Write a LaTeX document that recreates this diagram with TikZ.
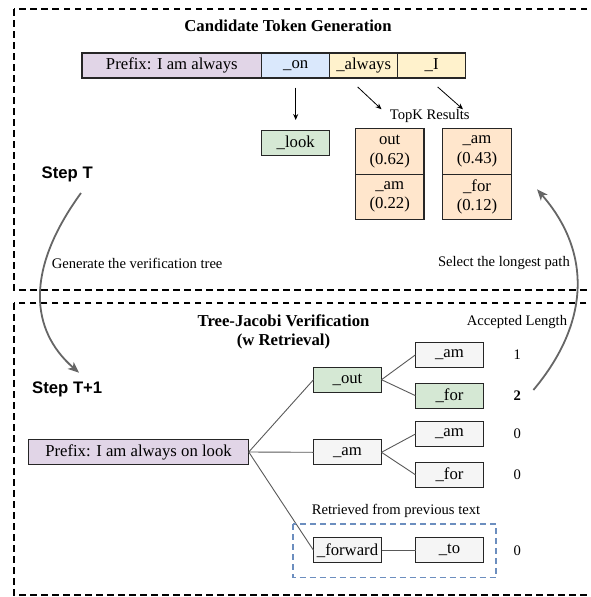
\documentclass[tikz,border=0pt]{standalone}
\usepackage{fontspec}
\setmainfont{Liberation Serif}
\newfontfamily\stepfont{Liberation Sans}
\usetikzlibrary{positioning,arrows.meta}

\definecolor{prefixc}{HTML}{E1D5E7}
\definecolor{onc}{HTML}{DAE8FC}
\definecolor{yelc}{HTML}{FFF2CC}
\definecolor{greenc}{HTML}{D5E8D4}
\definecolor{orangec}{HTML}{FFE6CC}
\definecolor{greyc}{HTML}{F5F5F5}
\definecolor{retrc}{HTML}{6C8EBF}
\definecolor{arcc}{HTML}{666666}

\newcommand\boxfont{\fontsize{16.7}{19.5}\selectfont}
\newcommand\labfont{\fontsize{14.6}{17}\selectfont}

\begin{document}
\begin{tikzpicture}[x=1pt,y=1pt,>={Stealth[length=6pt,width=5pt]},
  tok/.style={draw=black!85,line width=1.2pt,minimum height=25pt,minimum width=68pt,inner sep=0pt,outer sep=0pt,font=\boxfont},
  prob/.style={tok,fill=orangec,minimum height=45.5pt,minimum width=68.6pt,align=center},
  leaf/.style={tok,fill=greyc},
  title/.style={font=\boxfont\bfseries,inner sep=0pt},
  lab/.style={font=\labfont,inner sep=0pt},
  steplab/.style={font={\stepfont\boxfont\bfseries},inner sep=0pt},
  panel/.style={draw=black,line width=1.8pt,dash pattern=on 6.5pt off 4.5pt},
  retr/.style={draw=retrc,line width=1.5pt,dash pattern=on 6pt off 4pt},
  tree/.style={draw=black!65,line width=0.9pt},
  arc/.style={draw=arcc,line width=1.8pt,-{Stealth[length=11pt,width=9pt,inset=3pt]}}]
\useasboundingbox (0,0) rectangle (591,-597);

% candidate token generation
\draw[panel] (14,-9) rectangle (591.5,-290);
\node[title] (gentitle) at (288,-25.7) {Candidate Token Generation};

\node[tok,fill=prefixc,minimum width=179.7pt] (prefix) at (171.85,-65.5) {Prefix: I am always};
\node[tok,fill=onc,right=0pt of prefix] (on) {\_on};
\node[tok,fill=yelc,right=0pt of on] (always) {\_always};
\node[tok,fill=yelc,right=0pt of always] (I) {\_I};

\node[tok,fill=greenc,below=52.7pt of on] (look) {\_look};

\node[lab] (topk) at (429.7,-116) {TopK Results};
\node[prob] (outp) at (389.7,-151.5) {out\\(0.62)};
\node[prob,below=0pt of outp] (amp) {\_am\\(0.22)};
\node[prob] (amq) at (477,-151.5) {\_am\\(0.43)};
\node[prob,below=0pt of amq] (forq) {\_for\\(0.12)};

\coordinate (tip1) at (381.5,-109.3);
\coordinate (tip2) at (463,-109.3);
\path[->,line width=0.8pt]
    (on) edge [shorten <=9.7pt,shorten >=10.7pt] (look)
    ([shift={(-6,-9)}]always.south) edge (tip1)
    ([shift={(6,-9)}]I.south) edge (tip2);

\node[steplab,anchor=west] (stepT) at (41.5,-174) {Step T};
\node[lab,anchor=west] (genlab) at (51.6,-263) {Generate the verification tree};
\node[lab,anchor=east] (sellab) at (570,-263) {Select the longest path};

% tree-jacobi verification
\draw[panel] (14,-303.3) rectangle (591.5,-595);
\node[title,align=center] (vertitle) at (283.5,-331.7) {Tree-Jacobi Verification\\(w Retrieval)};
\node[lab] (acclen) at (517,-322.3) {Accepted Length};
\node[steplab,anchor=west] (stepT1) at (32,-389.3) {Step T+1};

\node[tok,fill=prefixc,minimum width=220.5pt] (root) at (138.5,-452) {Prefix: I am always on look};
\node[tok,fill=greenc] (out) at (347.5,-379.7) {\_out};
\node[leaf] (am) at (347.5,-452.3) {\_am};
\node[leaf] (fwd) at (347.5,-550.3) {\_forward};

\node[leaf] (outam) at (449.5,-354.8) {\_am};
\node[tok,fill=greenc] (outfor) at (449.5,-395.7) {\_for};
\node[leaf] (amam) at (449.5,-434) {\_am};
\node[leaf] (amfor) at (449.5,-474.8) {\_for};
\node[leaf,right=34pt of fwd] (to) {\_to};

\node[lab,right=30pt of outam] (n1) {1};
\node[lab,right=30pt of outfor] (n2) {\textbf{2}};
\node[lab,right=30pt of amam] (n3) {0};
\node[lab,right=30pt of amfor] (n4) {0};
\node[lab,right=30pt of to] (n5) {0};

\path[tree]
    (root.east) edge (out.west)
    (root.east) edge (am.west)
    (root.east) edge (fwd.west)
    (out.east) edge (outam.west)
    (out.east) edge (outfor.west)
    (am.east) edge (amam.west)
    (am.east) edge (amfor.west)
    (fwd) edge (to);

\draw[retr] ([shift={(-20.6,13.7)}]fwd.north west) rectangle ([shift={(12.4,-14.6)}]to.south east);
\node[lab] (retrlab) at (396,-510.7) {Retrieved from previous text};

% step arcs
\coordinate (arcAs) at (81,-193);
\coordinate (arcAe) at (79,-372.7);
\draw[arc] (arcAs) .. controls (25,-270) and (30,-330) .. (arcAe);
\coordinate (arcBs) at (533.4,-390);
\coordinate (arcBe) at (537,-189.3);
\draw[arc] (arcBs) .. controls (592,-320) and (590,-250) .. (arcBe);
\end{tikzpicture}
\end{document}
